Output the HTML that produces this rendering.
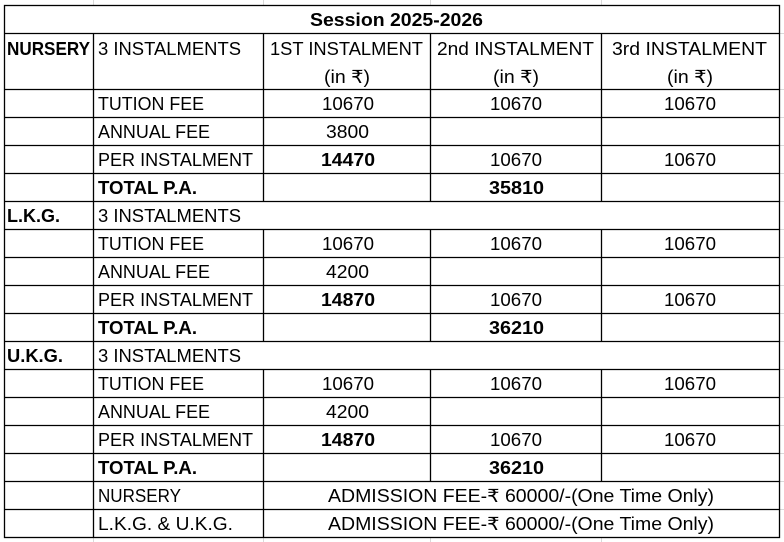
<!DOCTYPE html>
<html><head><meta charset="utf-8"><style>
html,body{margin:0;padding:0;background:#fff;width:784px;height:542px;overflow:hidden}
svg{display:block}
text{font-family:"Liberation Sans","DejaVu Sans",sans-serif;font-size:18px;fill:#000}
.b{font-weight:bold}
</style></head><body>
<svg width="784" height="542" viewBox="0 0 784 542" xmlns="http://www.w3.org/2000/svg">
<g stroke="#d9d9d9" stroke-width="1">
<line x1="93.5" y1="0" x2="93.5" y2="5"/><line x1="263.5" y1="0" x2="263.5" y2="5"/><line x1="430.5" y1="0" x2="430.5" y2="5"/><line x1="601.5" y1="0" x2="601.5" y2="5"/>
<line x1="93.5" y1="537" x2="93.5" y2="542"/><line x1="263.5" y1="537" x2="263.5" y2="542"/><line x1="430.5" y1="537" x2="430.5" y2="542"/><line x1="601.5" y1="537" x2="601.5" y2="542"/>
<line x1="779" y1="33.5" x2="784" y2="33.5"/><line x1="779" y1="89.5" x2="784" y2="89.5"/><line x1="779" y1="117.5" x2="784" y2="117.5"/><line x1="779" y1="145.5" x2="784" y2="145.5"/><line x1="779" y1="173.5" x2="784" y2="173.5"/><line x1="779" y1="201.5" x2="784" y2="201.5"/><line x1="779" y1="229.5" x2="784" y2="229.5"/><line x1="779" y1="257.5" x2="784" y2="257.5"/><line x1="779" y1="285.5" x2="784" y2="285.5"/><line x1="779" y1="313.5" x2="784" y2="313.5"/><line x1="779" y1="341.5" x2="784" y2="341.5"/><line x1="779" y1="369.5" x2="784" y2="369.5"/><line x1="779" y1="397.5" x2="784" y2="397.5"/><line x1="779" y1="425.5" x2="784" y2="425.5"/><line x1="779" y1="453.5" x2="784" y2="453.5"/><line x1="779" y1="481.5" x2="784" y2="481.5"/><line x1="779" y1="509.5" x2="784" y2="509.5"/>
</g>
<g stroke="#000" stroke-width="1.3" fill="none">
<rect x="4.5" y="5.5" width="775" height="532"/>
<line x1="4" y1="33.5" x2="780" y2="33.5"/>
<line x1="4" y1="89.5" x2="780" y2="89.5"/>
<line x1="4" y1="117.5" x2="780" y2="117.5"/>
<line x1="4" y1="145.5" x2="780" y2="145.5"/>
<line x1="4" y1="173.5" x2="780" y2="173.5"/>
<line x1="4" y1="201.5" x2="780" y2="201.5"/>
<line x1="4" y1="229.5" x2="780" y2="229.5"/>
<line x1="4" y1="257.5" x2="780" y2="257.5"/>
<line x1="4" y1="285.5" x2="780" y2="285.5"/>
<line x1="4" y1="313.5" x2="780" y2="313.5"/>
<line x1="4" y1="341.5" x2="780" y2="341.5"/>
<line x1="4" y1="369.5" x2="780" y2="369.5"/>
<line x1="4" y1="397.5" x2="780" y2="397.5"/>
<line x1="4" y1="425.5" x2="780" y2="425.5"/>
<line x1="4" y1="453.5" x2="780" y2="453.5"/>
<line x1="4" y1="481.5" x2="780" y2="481.5"/>
<line x1="4" y1="509.5" x2="780" y2="509.5"/>
<line x1="93.5" y1="33" x2="93.5" y2="538"/>
<line x1="263.5" y1="33" x2="263.5" y2="201"/>
<line x1="263.5" y1="229" x2="263.5" y2="341"/>
<line x1="263.5" y1="369" x2="263.5" y2="538"/>
<line x1="430.5" y1="33" x2="430.5" y2="201"/>
<line x1="430.5" y1="229" x2="430.5" y2="341"/>
<line x1="430.5" y1="369" x2="430.5" y2="481"/>
<line x1="601.5" y1="33" x2="601.5" y2="201"/>
<line x1="601.5" y1="229" x2="601.5" y2="341"/>
<line x1="601.5" y1="369" x2="601.5" y2="481"/>
</g>
<text class="b" x="310" y="26" textLength="173" lengthAdjust="spacingAndGlyphs">Session  2025-2026</text>
<text class="b" x="7" y="55" textLength="83" lengthAdjust="spacingAndGlyphs">NURSERY</text>
<text x="98" y="55" textLength="143" lengthAdjust="spacingAndGlyphs">3 INSTALMENTS</text>
<text x="270" y="55" textLength="153" lengthAdjust="spacingAndGlyphs">1ST INSTALMENT</text>
<text x="437" y="55" textLength="157" lengthAdjust="spacingAndGlyphs">2nd INSTALMENT</text>
<text x="612" y="55" textLength="155" lengthAdjust="spacingAndGlyphs">3rd INSTALMENT</text>
<text x="324" y="83" textLength="46" lengthAdjust="spacingAndGlyphs">(in ₹)</text>
<text x="493" y="83" textLength="46" lengthAdjust="spacingAndGlyphs">(in ₹)</text>
<text x="667" y="83" textLength="46" lengthAdjust="spacingAndGlyphs">(in ₹)</text>
<!-- Nursery -->
<text x="98" y="110" textLength="106" lengthAdjust="spacingAndGlyphs">TUTION FEE</text>
<text x="322" y="110" textLength="52" lengthAdjust="spacingAndGlyphs">10670</text><text x="490" y="110" textLength="52" lengthAdjust="spacingAndGlyphs">10670</text><text x="664" y="110" textLength="52" lengthAdjust="spacingAndGlyphs">10670</text>
<text x="98" y="138" textLength="112" lengthAdjust="spacingAndGlyphs">ANNUAL FEE</text>
<text x="326" y="138" textLength="43" lengthAdjust="spacingAndGlyphs">3800</text>
<text x="98" y="166" textLength="155" lengthAdjust="spacingAndGlyphs">PER INSTALMENT</text>
<text class="b" x="321" y="166" textLength="54" lengthAdjust="spacingAndGlyphs">14470</text><text x="490" y="166" textLength="52" lengthAdjust="spacingAndGlyphs">10670</text><text x="664" y="166" textLength="52" lengthAdjust="spacingAndGlyphs">10670</text>
<text class="b" x="98" y="194" textLength="99" lengthAdjust="spacingAndGlyphs">TOTAL P.A.</text>
<text class="b" x="489" y="194" textLength="55" lengthAdjust="spacingAndGlyphs">35810</text>
<!-- LKG -->
<text class="b" x="7" y="222" textLength="53" lengthAdjust="spacingAndGlyphs">L.K.G.</text>
<text x="98" y="222" textLength="143" lengthAdjust="spacingAndGlyphs">3 INSTALMENTS</text>
<text x="98" y="250" textLength="106" lengthAdjust="spacingAndGlyphs">TUTION FEE</text>
<text x="322" y="250" textLength="52" lengthAdjust="spacingAndGlyphs">10670</text><text x="490" y="250" textLength="52" lengthAdjust="spacingAndGlyphs">10670</text><text x="664" y="250" textLength="52" lengthAdjust="spacingAndGlyphs">10670</text>
<text x="98" y="278" textLength="112" lengthAdjust="spacingAndGlyphs">ANNUAL FEE</text>
<text x="326" y="278" textLength="43" lengthAdjust="spacingAndGlyphs">4200</text>
<text x="98" y="306" textLength="155" lengthAdjust="spacingAndGlyphs">PER INSTALMENT</text>
<text class="b" x="321" y="306" textLength="54" lengthAdjust="spacingAndGlyphs">14870</text><text x="490" y="306" textLength="52" lengthAdjust="spacingAndGlyphs">10670</text><text x="664" y="306" textLength="52" lengthAdjust="spacingAndGlyphs">10670</text>
<text class="b" x="98" y="334" textLength="99" lengthAdjust="spacingAndGlyphs">TOTAL P.A.</text>
<text class="b" x="489" y="334" textLength="55" lengthAdjust="spacingAndGlyphs">36210</text>
<!-- UKG -->
<text class="b" x="7" y="362" textLength="56" lengthAdjust="spacingAndGlyphs">U.K.G.</text>
<text x="98" y="362" textLength="143" lengthAdjust="spacingAndGlyphs">3 INSTALMENTS</text>
<text x="98" y="390" textLength="106" lengthAdjust="spacingAndGlyphs">TUTION FEE</text>
<text x="322" y="390" textLength="52" lengthAdjust="spacingAndGlyphs">10670</text><text x="490" y="390" textLength="52" lengthAdjust="spacingAndGlyphs">10670</text><text x="664" y="390" textLength="52" lengthAdjust="spacingAndGlyphs">10670</text>
<text x="98" y="418" textLength="112" lengthAdjust="spacingAndGlyphs">ANNUAL FEE</text>
<text x="326" y="418" textLength="43" lengthAdjust="spacingAndGlyphs">4200</text>
<text x="98" y="446" textLength="155" lengthAdjust="spacingAndGlyphs">PER INSTALMENT</text>
<text class="b" x="321" y="446" textLength="54" lengthAdjust="spacingAndGlyphs">14870</text><text x="490" y="446" textLength="52" lengthAdjust="spacingAndGlyphs">10670</text><text x="664" y="446" textLength="52" lengthAdjust="spacingAndGlyphs">10670</text>
<text class="b" x="98" y="474" textLength="99" lengthAdjust="spacingAndGlyphs">TOTAL P.A.</text>
<text class="b" x="489" y="474" textLength="55" lengthAdjust="spacingAndGlyphs">36210</text>
<!-- admission -->
<text x="98" y="502" textLength="83" lengthAdjust="spacingAndGlyphs">NURSERY</text>
<text x="328" y="502" textLength="386" lengthAdjust="spacingAndGlyphs">ADMISSION FEE-₹ 60000/-(One Time Only)</text>
<text x="98" y="530" textLength="135" lengthAdjust="spacingAndGlyphs">L.K.G. &amp; U.K.G.</text>
<text x="328" y="530" textLength="386" lengthAdjust="spacingAndGlyphs">ADMISSION FEE-₹ 60000/-(One Time Only)</text>
</svg>
</body></html>
